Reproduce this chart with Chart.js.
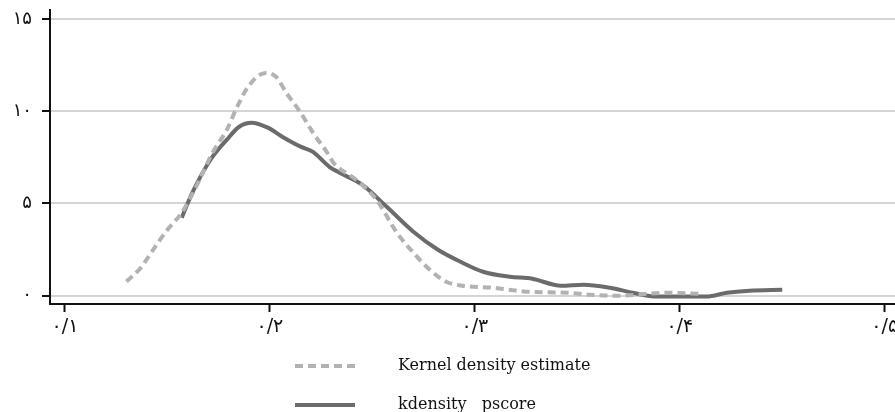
<!DOCTYPE html>
<html>
<head>
<meta charset="utf-8">
<script src="https://cdn.jsdelivr.net/npm/chart.js@4.4.1/dist/chart.umd.min.js"></script>
<style>
  html, body { margin: 0; padding: 0; background: #fff; }
  #wrap { width: 895px; height: 412px; }
</style>
</head>
<body>
<div id="wrap"><canvas id="myChart"></canvas></div>
<script>
// values
var kernelX = [0.130, 0.137, 0.143, 0.150, 0.157, 0.164, 0.172, 0.179, 0.184, 0.190, 0.198, 0.203, 0.208, 0.215, 0.221, 0.228, 0.231, 0.242, 0.252, 0.262, 0.270, 0.278, 0.286, 0.294, 0.309, 0.325, 0.345, 0.356, 0.369, 0.394, 0.410];
var kernelY = [0.77, 1.52, 2.49, 3.58, 4.50, 5.91, 7.75, 9.00, 10.24, 11.43, 12.08, 11.87, 11.00, 9.92, 8.84, 7.75, 7.21, 6.29, 5.20, 3.41, 2.33, 1.41, 0.76, 0.54, 0.43, 0.22, 0.16, 0.05, 0.0, 0.16, 0.10];
var pscoreX = [0.157, 0.162, 0.171, 0.179, 0.185, 0.191, 0.199, 0.206, 0.215, 0.221, 0.229, 0.234, 0.245, 0.257, 0.270, 0.282, 0.293, 0.304, 0.317, 0.328, 0.342, 0.353, 0.366, 0.377, 0.389, 0.413, 0.423, 0.434, 0.450];
var pscoreY = [4.23, 5.55, 7.37, 8.46, 9.16, 9.38, 9.11, 8.62, 8.08, 7.80, 6.99, 6.67, 6.02, 4.82, 3.47, 2.49, 1.84, 1.30, 1.03, 0.92, 0.54, 0.60, 0.43, 0.16, -0.05, -0.05, 0.16, 0.27, 0.32];
var seriesNames = ['Kernel density estimate', 'kdensity   pscore'];
var xTicks = [0.1, 0.2, 0.3, 0.4, 0.5];
var xTickLabels = ['۰/۱', '۰/۲', '۰/۳', '۰/۴', '۰/۵'];
var yTicks = [0, 5, 10, 15];
var yTickLabels = ['۰', '۵', '۱۰', '۱۵'];

function toPoints(xs, ys) {
  return xs.map(function(x, i) { return { x: x, y: ys[i] }; });
}

// legend stacked under the axis, drawn by hand
var stackedLegend = {
  id: 'stackedLegend',
  afterDraw: function(chart, args, opts) {
    var c = chart.ctx;
    chart.data.datasets.forEach(function(ds, i) {
      var y = opts.top + i * opts.rowGap;
      c.save();
      c.strokeStyle = ds.borderColor;
      c.lineWidth = ds.borderWidth;
      c.setLineDash(ds.borderDash || []);
      c.beginPath();
      c.moveTo(opts.left, y);
      c.lineTo(opts.left + opts.sampleWidth, y);
      c.stroke();
      c.setLineDash([]);
      c.fillStyle = '#111';
      c.font = opts.font;
      c.textBaseline = 'middle';
      c.fillText(ds.label, opts.textLeft, y);
      c.restore();
    });
  }
};

// no extra room around the axes for half tick labels
function noLabelPadding(scale) {
  scale.paddingTop = 0;
  scale.paddingBottom = 0;
  scale.paddingLeft = 0;
  scale.paddingRight = 0;
}

var ctx = document.getElementById('myChart').getContext('2d');
var myChart = new Chart(ctx, {
  type: 'line',
  plugins: [stackedLegend],
  data: {
    datasets: [{
      label: seriesNames[0],
      data: toPoints(kernelX, kernelY),
      borderColor: '#b2b2b4',
      borderWidth: 4,
      borderDash: [8, 5],
      pointRadius: 0,
      cubicInterpolationMode: 'monotone',
      fill: false
    }, {
      label: seriesNames[1],
      data: toPoints(pscoreX, pscoreY),
      borderColor: '#6b6b6d',
      borderWidth: 4,
      pointRadius: 0,
      cubicInterpolationMode: 'monotone',
      fill: false
    }]
  },
  options: {
    responsive: true,
    maintainAspectRatio: false,
    animation: false,
    layout: { padding: { top: 10, right: 0, bottom: 0, left: 0 } },
    plugins: {
      legend: { display: false },
      tooltip: { enabled: false },
      stackedLegend: {
        left: 295,
        sampleWidth: 60,
        textLeft: 398,
        top: 366,
        rowGap: 39,
        font: '16px "DejaVu Serif", "Liberation Serif", serif'
      }
    },
    scales: {
      x: {
        type: 'linear',
        min: 0.0927,
        max: 0.505,
        afterBuildTicks: function(scale) {
          scale.ticks = xTicks.map(function(v) { return { value: v }; });
        },
        afterFit: function(scale) {
          scale.height = 108;
          noLabelPadding(scale);
        },
        grid: {
          drawOnChartArea: false,
          tickColor: '#111',
          tickLength: 8,
          tickWidth: 2
        },
        border: { display: true, color: '#111', width: 2 },
        ticks: {
          color: '#111',
          padding: 4,
          maxRotation: 0,
          font: { size: 19, family: '"DejaVu Sans", sans-serif' },
          callback: function(value) {
            var i = xTicks.indexOf(Math.round(value * 10) / 10);
            return i >= 0 ? xTickLabels[i] : '';
          }
        }
      },
      y: {
        min: -0.45,
        max: 15.49,
        afterBuildTicks: function(scale) {
          scale.ticks = yTicks.map(function(v) { return { value: v }; });
        },
        afterFit: function(scale) {
          scale.width = 50;
          noLabelPadding(scale);
        },
        grid: {
          color: '#d4d4d4',
          lineWidth: 2,
          tickColor: '#111',
          tickLength: 8,
          tickWidth: 2
        },
        border: { display: true, color: '#111', width: 2 },
        ticks: {
          color: '#111',
          padding: 10,
          font: { size: 18, family: '"DejaVu Sans", sans-serif' },
          callback: function(value) {
            var i = yTicks.indexOf(value);
            return i >= 0 ? yTickLabels[i] : '';
          }
        }
      }
    }
  }
});
</script>
</body>
</html>
